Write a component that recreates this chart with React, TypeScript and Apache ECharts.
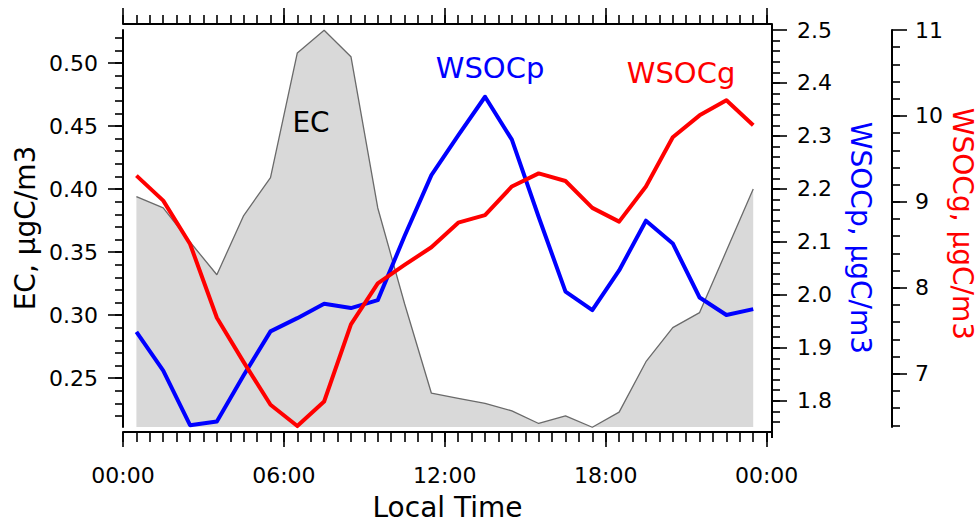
import React, { useEffect, useRef } from 'react';
import * as echarts from 'echarts';

// Hourly means, plotted at the middle of each hour (local time)
const HOURS = [0.5, 1.5, 2.5, 3.5, 4.5, 5.5, 6.5, 7.5, 8.5, 9.5, 10.5, 11.5,
  12.5, 13.5, 14.5, 15.5, 16.5, 17.5, 18.5, 19.5, 20.5, 21.5, 22.5, 23.5];

// EC, µgC/m3
const EC = [0.394, 0.385, 0.358, 0.332, 0.379, 0.409, 0.508, 0.526, 0.505, 0.385, 0.309, 0.238,
  0.234, 0.230, 0.224, 0.214, 0.220, 0.211, 0.223, 0.263, 0.290, 0.302, 0.351, 0.400];

// WSOCp, µgC/m3
const WSOCP = [1.930, 1.857, 1.754, 1.761, 1.848, 1.931, 1.956, 1.983, 1.975, 1.990, 2.111, 2.226,
  2.301, 2.374, 2.293, 2.147, 2.006, 1.971, 2.046, 2.140, 2.097, 1.995, 1.962, 1.973];

// WSOCg, µgC/m3
const WSOCG = [9.305, 9.014, 8.51, 7.651, 7.135, 6.639, 6.391, 6.677, 7.575, 8.052, 8.266, 8.472,
  8.758, 8.846, 9.179, 9.331, 9.243, 8.93, 8.77, 9.179, 9.751, 10.007, 10.182, 9.892];

// Tick labels
const TIME_TICKS = [0, 6, 12, 18, 24];
const EC_TICKS = [0.25, 0.3, 0.35, 0.4, 0.45, 0.5];
const WSOCP_TICKS = [1.8, 1.9, 2.0, 2.1, 2.2, 2.3, 2.4, 2.5];
const WSOCG_TICKS = [7, 8, 9, 10, 11];

const FONT = '"DejaVu Sans", sans-serif';

function steps(from: number, to: number, step: number): number[] {
  const out: number[] = [];
  const n = Math.round((to - from) / step);
  for (let i = 0; i <= n; i++) out.push(+(from + i * step).toFixed(4));
  return out;
}

const X_MIN = 0, X_MAX = 24.2;
const EC_MIN = 0.2112, EC_MAX = 0.5262;
const P_MIN = 1.7505, P_MAX = 2.5;
const G_MIN = 6.38, G_MAX = 11;

const axisLine = { show: true, onZero: false, lineStyle: { color: '#000', width: 2 } };
const noLine = { show: false, onZero: false };
const tickStyle = { color: '#000', width: 1.6 };
const labelStyle = { color: '#000', fontSize: 22, fontFamily: FONT };

function timeLabel(v: number): string {
  const h = Math.round(v) % 24;
  return (h < 10 ? '0' : '') + h + ':00';
}

export default function App() {
  const ref = useRef<HTMLDivElement>(null);

  useEffect(() => {
    if (!ref.current) return;
    const chart = echarts.init(ref.current, undefined, { renderer: 'svg' });

    const xBase = { type: 'value', min: X_MIN, max: X_MAX, splitLine: { show: false } };
    const minorTimes = steps(0, 24, 0.5);

    chart.setOption({
      animation: false,
      backgroundColor: '#fff',
      grid: { left: 123, right: 208, top: 30, bottom: 93 },
      xAxis: [
        {
          ...xBase, position: 'bottom', offset: 5,
          axisLine,
          axisTick: { show: true, length: 15, lineStyle: tickStyle, customValues: TIME_TICKS },
          axisLabel: { ...labelStyle, margin: 32, customValues: TIME_TICKS, formatter: timeLabel },
          name: 'Local Time', nameLocation: 'middle', nameGap: 61,
          nameTextStyle: { color: '#000', fontSize: 28, fontFamily: FONT },
        },
        {
          ...xBase, position: 'bottom', offset: 5,
          axisLine: noLine,
          axisTick: { show: true, length: 10, lineStyle: tickStyle, customValues: minorTimes },
          axisLabel: { show: false },
        },
        {
          ...xBase, position: 'top', offset: 6,
          axisLine,
          axisTick: { show: true, length: 16, lineStyle: tickStyle, customValues: TIME_TICKS },
          axisLabel: { show: false },
        },
        {
          ...xBase, position: 'top', offset: 6,
          axisLine: noLine,
          axisTick: { show: true, length: 9, lineStyle: tickStyle, customValues: minorTimes },
          axisLabel: { show: false },
        },
      ],
      yAxis: [
        {
          type: 'value', position: 'left', min: EC_MIN, max: EC_MAX, splitLine: { show: false },
          axisLine,
          axisTick: { show: true, length: 15, lineStyle: tickStyle, customValues: EC_TICKS },
          axisLabel: { ...labelStyle, margin: 25, customValues: EC_TICKS, formatter: (v: number) => v.toFixed(2) },
        },
        {
          type: 'value', position: 'right', offset: 0, min: P_MIN, max: P_MAX, splitLine: { show: false },
          axisLine,
          axisTick: { show: true, length: 15, lineStyle: tickStyle, customValues: WSOCP_TICKS },
          axisLabel: { ...labelStyle, margin: 25, customValues: WSOCP_TICKS, formatter: (v: number) => v.toFixed(1) },
        },
        {
          type: 'value', position: 'right', offset: 120, min: G_MIN, max: G_MAX, splitLine: { show: false },
          axisLine,
          axisTick: { show: true, length: 15, lineStyle: tickStyle, customValues: WSOCG_TICKS },
          axisLabel: { ...labelStyle, margin: 23, customValues: WSOCG_TICKS, formatter: (v: number) => String(Math.round(v)) },
        },
        {
          type: 'value', position: 'left', offset: 0, min: EC_MIN, max: EC_MAX, splitLine: { show: false },
          axisLine: noLine,
          axisTick: { show: true, length: 8, lineStyle: tickStyle, customValues: steps(0.22, 0.52, 0.01) },
          axisLabel: { show: false },
        },
        {
          type: 'value', position: 'right', offset: 0, min: P_MIN, max: P_MAX, splitLine: { show: false },
          axisLine: noLine,
          axisTick: { show: true, length: 8, lineStyle: tickStyle, customValues: steps(1.76, 2.48, 0.02) },
          axisLabel: { show: false },
        },
        {
          type: 'value', position: 'right', offset: 120, min: G_MIN, max: G_MAX, splitLine: { show: false },
          axisLine: noLine,
          axisTick: { show: true, length: 8, lineStyle: tickStyle, customValues: steps(6.4, 10.8, 0.2) },
          axisLabel: { show: false },
        },
      ],
      series: [
        {
          name: 'EC', type: 'line', xAxisIndex: 0, yAxisIndex: 0,
          data: HOURS.map((h, i) => [h, EC[i]]),
          symbol: 'none', clip: false,
          lineStyle: { color: '#6a6a6a', width: 1.3 },
          areaStyle: { color: '#d9d9d9', opacity: 1, origin: 'start' },
          z: 1,
        },
        {
          name: 'WSOCp', type: 'line', xAxisIndex: 0, yAxisIndex: 1,
          data: HOURS.map((h, i) => [h, WSOCP[i]]),
          symbol: 'none', clip: false,
          lineStyle: { color: '#0000ff', width: 4, join: 'round' },
          z: 2,
        },
        {
          name: 'WSOCg', type: 'line', xAxisIndex: 0, yAxisIndex: 2,
          data: HOURS.map((h, i) => [h, WSOCG[i]]),
          symbol: 'none', clip: false,
          lineStyle: { color: '#ff0000', width: 4, join: 'round' },
          z: 3,
        },
      ],
      graphic: [
        // right-hand frame edge
        { type: 'line', shape: { x1: 772, y1: 24, x2: 772, y2: 438 }, style: { stroke: '#000', lineWidth: 2 }, z: 10 },
        {
          type: 'text', x: 25, y: 228, rotation: Math.PI / 2,
          style: { text: 'EC, µgC/m3', fontSize: 28, fontFamily: FONT, fill: '#000', align: 'center', verticalAlign: 'middle' },
        },
        {
          type: 'text', x: 860, y: 238, rotation: -Math.PI / 2,
          style: { text: 'WSOCp, µgC/m3', fontSize: 28, fontFamily: FONT, fill: '#0000ff', align: 'center', verticalAlign: 'middle' },
        },
        {
          type: 'text', x: 962, y: 224, rotation: -Math.PI / 2,
          style: { text: 'WSOCg, µgC/m3', fontSize: 28, fontFamily: FONT, fill: '#ff0000', align: 'center', verticalAlign: 'middle' },
        },
        {
          type: 'text', x: 311, y: 122, z: 5,
          style: { text: 'EC', fontSize: 28, fontFamily: FONT, fill: '#000', align: 'center', verticalAlign: 'middle' },
        },
        {
          type: 'text', x: 490, y: 68, z: 5,
          style: { text: 'WSOCp', fontSize: 29, fontFamily: FONT, fill: '#0000ff', align: 'center', verticalAlign: 'middle' },
        },
        {
          type: 'text', x: 681, y: 73, z: 5,
          style: { text: 'WSOCg', fontSize: 29, fontFamily: FONT, fill: '#ff0000', align: 'center', verticalAlign: 'middle' },
        },
      ],
    });

    return () => chart.dispose();
  }, []);

  return (
    <div
      ref={ref}
      style={{ position: 'fixed', left: 0, top: 0, width: 980, height: 526, background: '#fff' }}
    />
  );
}
